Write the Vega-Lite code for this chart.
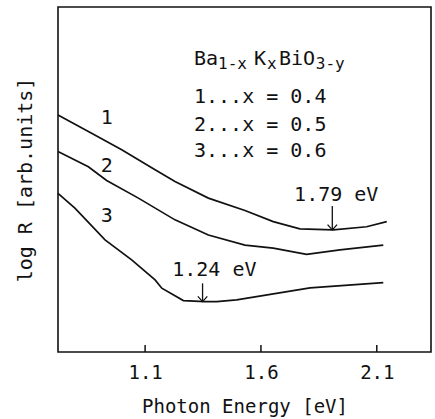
{
  "$schema": "https://vega.github.io/schema/vega-lite/v6.json",
  "width": 373,
  "height": 345,
  "autosize": {"type": "none"},
  "padding": {"left": 58, "top": 7, "right": 4, "bottom": 67},
  "background": "white",
  "config": {
    "view": {"stroke": "#111", "strokeWidth": 1.6},
    "font": "DejaVu Sans Mono",
    "axis": {"grid": false, "domain": false, "labelFont": "DejaVu Sans Mono", "titleFont": "DejaVu Sans Mono", "labelColor": "#111", "titleColor": "#111", "titleFontWeight": "normal"},
    "text": {"font": "DejaVu Sans Mono", "color": "#111"}
  },
  "datasets": {
    "curves": [
      {"c": "1", "e": 0.724, "r": 6.87}, {"c": "1", "e": 0.869, "r": 6.34}, {"c": "1", "e": 0.999, "r": 5.86},
      {"c": "1", "e": 1.143, "r": 5.28}, {"c": "1", "e": 1.229, "r": 4.94}, {"c": "1", "e": 1.373, "r": 4.46},
      {"c": "1", "e": 1.531, "r": 4.10}, {"c": "1", "e": 1.653, "r": 3.78}, {"c": "1", "e": 1.768, "r": 3.57},
      {"c": "1", "e": 1.912, "r": 3.54}, {"c": "1", "e": 2.056, "r": 3.63}, {"c": "1", "e": 2.143, "r": 3.78},
      {"c": "2", "e": 0.724, "r": 5.81}, {"c": "2", "e": 0.855, "r": 5.37}, {"c": "2", "e": 0.934, "r": 4.97},
      {"c": "2", "e": 1.071, "r": 4.46}, {"c": "2", "e": 1.229, "r": 3.83}, {"c": "2", "e": 1.373, "r": 3.39},
      {"c": "2", "e": 1.531, "r": 3.10}, {"c": "2", "e": 1.653, "r": 3.01}, {"c": "2", "e": 1.797, "r": 2.83},
      {"c": "2", "e": 1.941, "r": 2.96}, {"c": "2", "e": 2.128, "r": 3.10},
      {"c": "3", "e": 0.724, "r": 4.60}, {"c": "3", "e": 0.797, "r": 4.17}, {"c": "3", "e": 0.927, "r": 3.25},
      {"c": "3", "e": 1.042, "r": 2.67}, {"c": "3", "e": 1.143, "r": 2.09}, {"c": "3", "e": 1.172, "r": 1.85},
      {"c": "3", "e": 1.265, "r": 1.49}, {"c": "3", "e": 1.358, "r": 1.46}, {"c": "3", "e": 1.409, "r": 1.46},
      {"c": "3", "e": 1.495, "r": 1.51}, {"c": "3", "e": 1.812, "r": 1.86}, {"c": "3", "e": 2.128, "r": 2.01}
    ],
    "ticks": [
      {"e": 1.1, "r1": 0, "r2": 0.2},
      {"e": 1.6, "r1": 0, "r2": 0.2},
      {"e": 2.1, "r1": 0, "r2": 0.2}
    ],
    "curveLabels": [
      {"t": "1", "e": 0.935, "r": 6.78},
      {"t": "2", "e": 0.935, "r": 5.39},
      {"t": "3", "e": 0.935, "r": 3.94}
    ],
    "mainText": [
      {"t": "Ba", "e": 1.311, "r": 8.32},
      {"t": "K", "e": 1.570, "r": 8.32},
      {"t": "BiO", "e": 1.678, "r": 8.32},
      {"t": "1...x = 0.4", "e": 1.311, "r": 7.22},
      {"t": "2...x = 0.5", "e": 1.311, "r": 6.41},
      {"t": "3...x = 0.6", "e": 1.311, "r": 5.65}
    ],
    "subText": [
      {"t": "1-x", "e": 1.415, "r": 8.20},
      {"t": "x", "e": 1.626, "r": 8.20},
      {"t": "3-y", "e": 1.837, "r": 8.20}
    ],
    "notes": [
      {"t": "1.79 eV", "e": 1.925, "r": 4.55},
      {"t": "1.24 eV", "e": 1.399, "r": 2.39}
    ],
    "arrows": [
      {"e": 1.908, "r1": 4.23, "r2": 3.54},
      {"e": 1.348, "r1": 1.99, "r2": 1.46}
    ]
  },
  "layer": [
    {
      "data": {"name": "curves"},
      "mark": {"type": "line", "color": "#111", "strokeWidth": 1.7},
      "encoding": {
        "x": {"field": "e", "type": "quantitative", "scale": {"domain": [0.724, 2.334], "nice": false, "zero": false},
          "axis": {"values": [1.1, 1.6, 2.1], "format": ".1f", "title": "Photon Energy [eV]", "labelFontSize": 19, "titleFontSize": 19,
            "ticks": false, "labelPadding": 11, "titlePadding": 15}},
        "y": {"field": "r", "type": "quantitative", "scale": {"domain": [0, 10], "nice": false, "zero": false},
          "axis": {"labels": false, "ticks": false, "title": "log R [arb.units]", "titleFontSize": 20, "titlePadding": 23}},
        "detail": {"field": "c"}
      }
    },
    {
      "data": {"name": "ticks"},
      "mark": {"type": "rule", "color": "#111", "strokeWidth": 1.5},
      "encoding": {"x": {"field": "e", "type": "quantitative"}, "y": {"field": "r1", "type": "quantitative"}, "y2": {"field": "r2"}}
    },
    {
      "data": {"name": "curveLabels"},
      "mark": {"type": "text", "fontSize": 20, "align": "center", "baseline": "middle"},
      "encoding": {"x": {"field": "e", "type": "quantitative"}, "y": {"field": "r", "type": "quantitative"}, "text": {"field": "t"}}
    },
    {
      "data": {"name": "mainText"},
      "mark": {"type": "text", "fontSize": 20, "align": "left", "baseline": "alphabetic"},
      "encoding": {"x": {"field": "e", "type": "quantitative"}, "y": {"field": "r", "type": "quantitative"}, "text": {"field": "t"}}
    },
    {
      "data": {"name": "subText"},
      "mark": {"type": "text", "fontSize": 16, "align": "left", "baseline": "alphabetic"},
      "encoding": {"x": {"field": "e", "type": "quantitative"}, "y": {"field": "r", "type": "quantitative"}, "text": {"field": "t"}}
    },
    {
      "data": {"name": "notes"},
      "mark": {"type": "text", "fontSize": 20, "align": "center", "baseline": "middle"},
      "encoding": {"x": {"field": "e", "type": "quantitative"}, "y": {"field": "r", "type": "quantitative"}, "text": {"field": "t"}}
    },
    {
      "data": {"name": "arrows"},
      "mark": {"type": "rule", "color": "#111", "strokeWidth": 1.3},
      "encoding": {"x": {"field": "e", "type": "quantitative"}, "y": {"field": "r1", "type": "quantitative"}, "y2": {"field": "r2"}}
    },
    {
      "data": {"name": "arrows"},
      "mark": {"type": "point", "shape": "M -1 -1.1 L 0 0 L 1 -1.1", "filled": false, "size": 90, "color": "#111", "strokeWidth": 1.3, "opacity": 1},
      "encoding": {"x": {"field": "e", "type": "quantitative"}, "y": {"field": "r2", "type": "quantitative"}}
    }
  ]
}
